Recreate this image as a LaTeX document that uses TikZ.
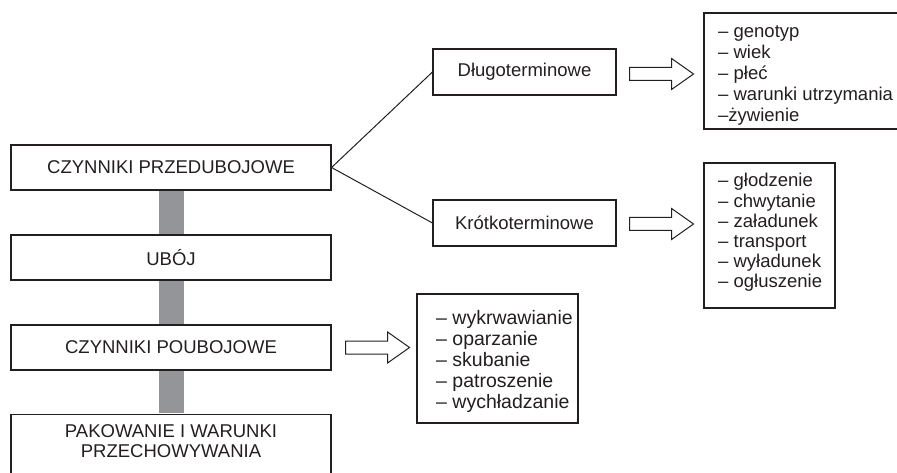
\documentclass[tikz,border=0pt]{standalone}
\usepackage{fontspec}
\setmainfont{Liberation Sans}
\usetikzlibrary{calc}
\definecolor{ink}{HTML}{231F20}
\definecolor{bar}{HTML}{939598}
\tikzset{
  box/.style={draw=ink, line width=1.1pt, rectangle, inner sep=0pt, fill=white},
  mainbox/.style={box, minimum width=320pt, minimum height=45pt, font=\fontsize{18.5}{20}\selectfont, text=ink},
  termbox/.style={box, minimum width=183pt, minimum height=46pt, font=\fontsize{18.5}{20}\selectfont, text=ink},
  listtext/.style={inner sep=0pt, anchor=base west, text=ink},
  harrow/.pic={\draw[draw=ink, line width=1pt, fill=white, line join=miter]
     (0,-6.5) -- (42,-6.5) -- (42,-15.5) -- (64,0) -- (42,15.5) -- (42,6.5) -- (0,6.5) -- cycle;}
}
\newcommand{\lstbox}[3]{{\fontsize{#1}{#2}\selectfont\begin{tabular}[t]{@{}l@{}}#3\end{tabular}}}
\begin{document}
\begin{tikzpicture}[x=1pt,y=-1pt]
\useasboundingbox (0,0) rectangle (897,473);
% main column
\node[mainbox] (prz) at (171,167.5) {CZYNNIKI PRZEDUBOJOWE};
\node[mainbox] (uboj) at (171,257.5) {UBÓJ};
\node[mainbox] (pou) at (171,347.5) {CZYNNIKI POUBOJOWE};
\node[box, minimum width=320pt, minimum height=80pt, anchor=north] (pakbox) at (171,414) {};
\node[inner sep=0pt, align=center, text=ink, font=\fontsize{18.5}{19.5}\selectfont] (pak) at (171,441) {PAKOWANIE I WARUNKI\\PRZECHOWYWANIA};
% grey bars
\fill[bar] ($(prz.south)+(-12.5,0.55)$) rectangle ($(uboj.north)+(12.5,-0.55)$);
\fill[bar] ($(uboj.south)+(-12.5,0.55)$) rectangle ($(pou.north)+(12.5,-0.55)$);
\fill[bar] ($(pou.south)+(-12.5,0.55)$) rectangle ($(pakbox.north)+(12.5,-0.55)$);
% term boxes
\node[termbox] (dlugo) at (524.5,72) {Długoterminowe};
\node[termbox] (krotko) at (524.5,223) {Krótkoterminowe};
\draw[ink, line width=1pt] (prz.east) -- (dlugo.west);
\draw[ink, line width=1pt] (prz.east) -- (krotko.west);
% list boxes
\node[box, minimum width=206pt, minimum height=116pt] (l1box) at (807,71) {};
\node[box, minimum width=131pt, minimum height=145pt] (l2box) at (769.5,235.5) {};
\node[box, minimum width=161pt, minimum height=129pt] (l3box) at (497.5,358.5) {};
% arrows
\pic at ($(dlugo.east)+(13,2)$) {harrow};
\pic at ($(krotko.east)+(13,1)$) {harrow};
\pic at ($(pou.east)+(14,0)$) {harrow};
% lists
\node[listtext] (l1) at (718,38) {\lstbox{18.5}{21}{– genotyp\\– wiek\\– płeć\\– warunki utrzymania\\–żywienie}};
\node[listtext] (l2) at (718,187) {\lstbox{18.5}{20.2}{– głodzenie\\– chwytanie\\– załadunek\\– transport\\– wyładunek\\– ogłuszenie}};
\node[listtext] (l3) at (436,324) {\lstbox{19.5}{21}{– wykrwawianie\\– oparzanie\\– skubanie\\– patroszenie\\– wychładzanie}};
\end{tikzpicture}
\end{document}
